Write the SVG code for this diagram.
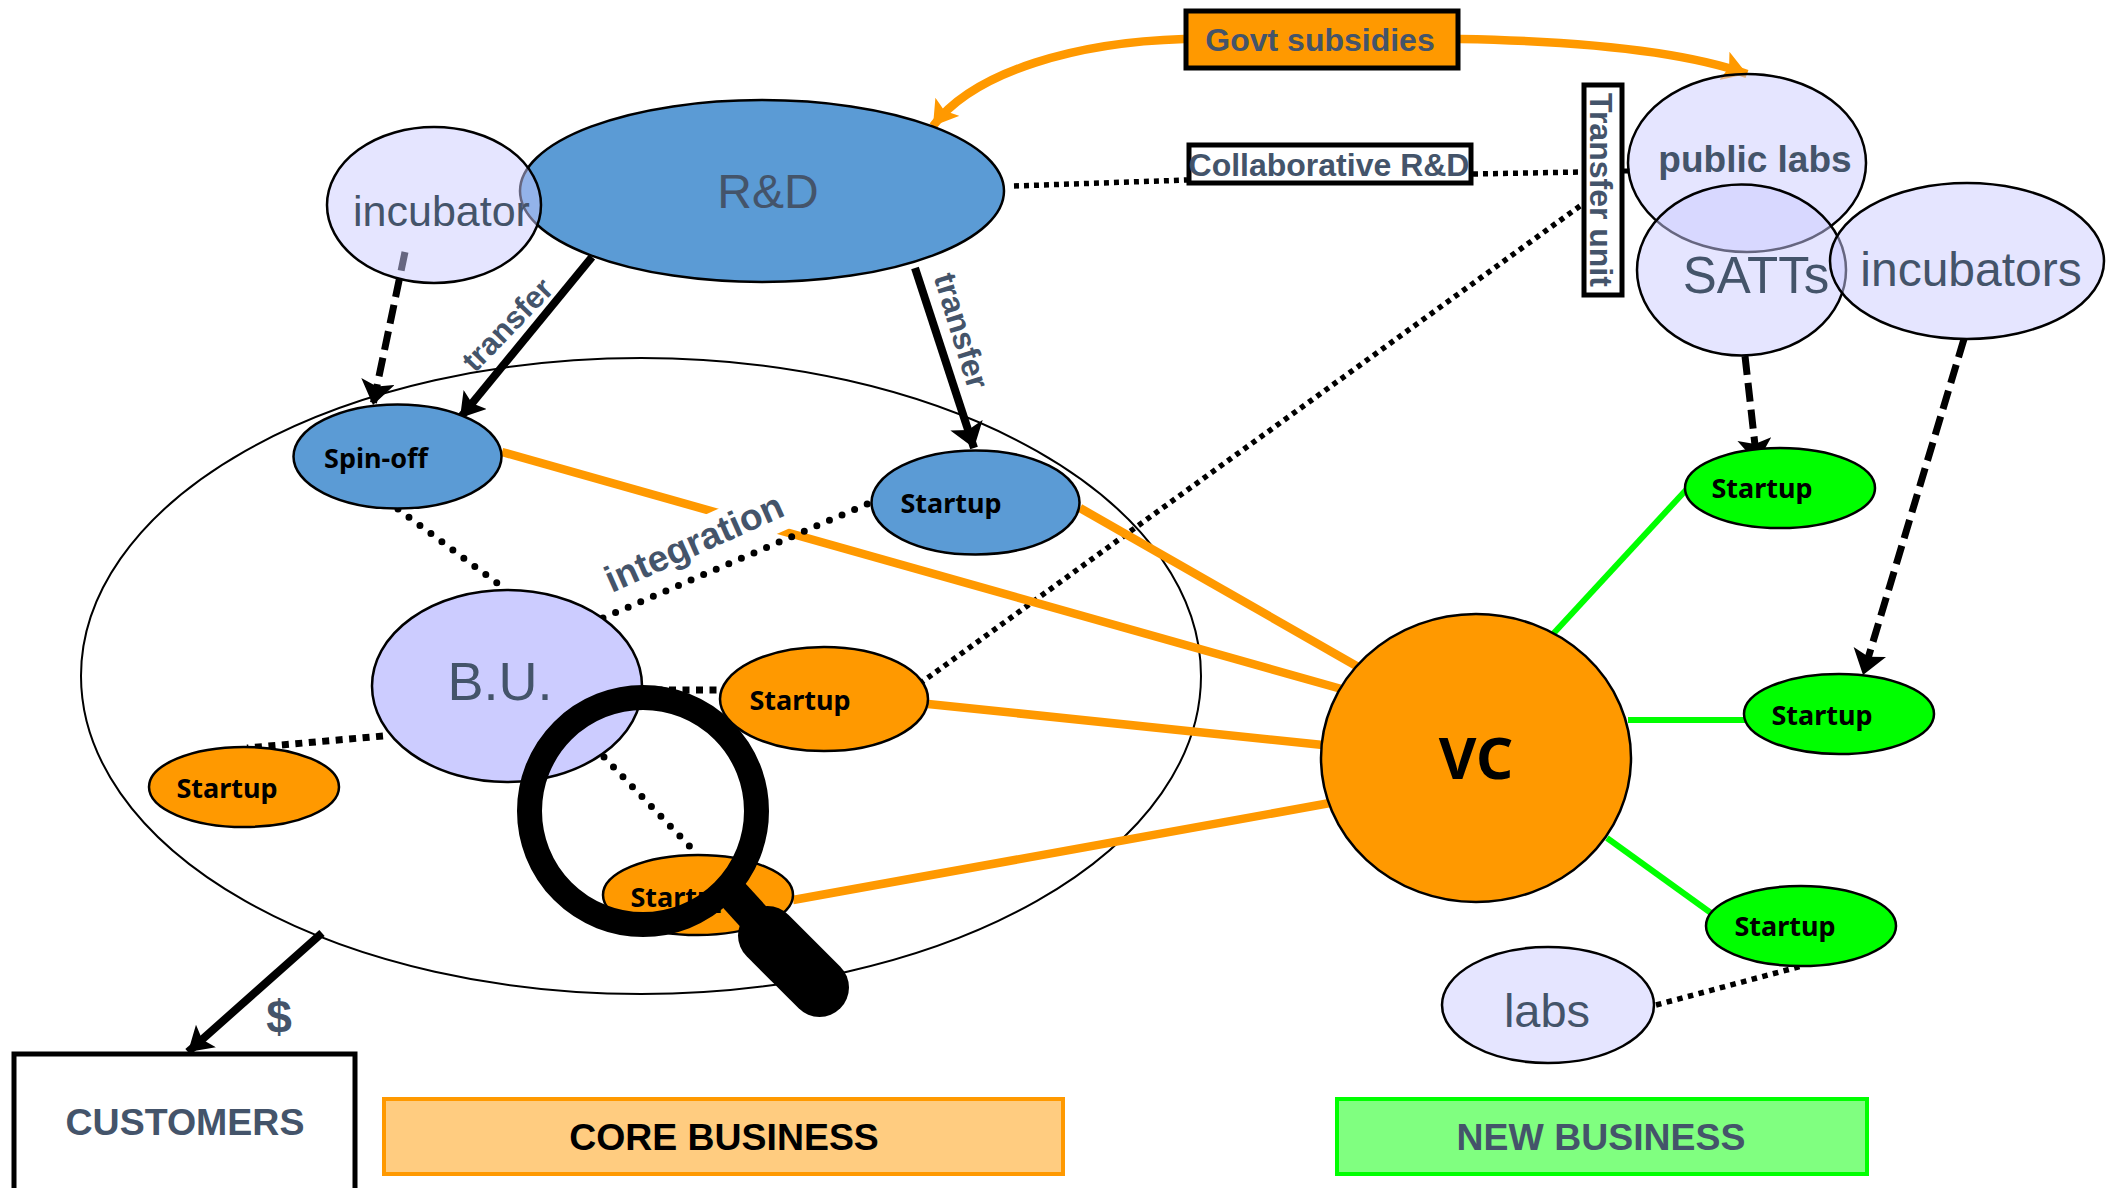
<svg xmlns="http://www.w3.org/2000/svg" width="2116" height="1188" viewBox="0 0 2116 1188">
<style>
.n{stroke:#000;stroke-width:2.5}
.lav{fill:#ccccff;fill-opacity:.5}
.blue{fill:#5b9bd5}
.org{fill:#ff9900}
.grn{fill:#00ff00}
text{font-family:"Liberation Sans",Arial,sans-serif;fill:#44546a;text-anchor:middle}
.b{font-weight:bold}
.s{font-family:"Noto Sans","Open Sans",sans-serif;font-weight:bold;font-size:27px;fill:#000}
.box{stroke:#000;stroke-width:5}
.c{fill:none;stroke:#000}
.dot{stroke-width:7;stroke-dasharray:0 13.7;stroke-linecap:round}
.sq{stroke-width:5.500;stroke-dasharray:5 5}
.sqm{stroke-width:5.500;stroke-dasharray:5.500 5.500}
.sql{stroke-width:7;stroke-dasharray:7 6.500}
.sol{stroke-width:8}
.dash{stroke-width:7;stroke-dasharray:19 8}
.o{fill:none;stroke:#ff9900;stroke-width:8.500}
.g{fill:none;stroke:#00ff00;stroke-width:6}
</style>
<defs>
<marker id="ak" markerUnits="userSpaceOnUse" markerWidth="27" markerHeight="36" refX="24" refY="17" orient="auto"><path d="M0 0L24 17L0 34L5 17Z" fill="#000"/></marker>
<marker id="as" markerUnits="userSpaceOnUse" markerWidth="27" markerHeight="32" refX="24" refY="15" orient="auto"><path d="M0 0L24 15L0 30L5 15Z" fill="#000"/></marker>
<marker id="ao" markerUnits="userSpaceOnUse" markerWidth="27" markerHeight="32" refX="24" refY="15" orient="auto"><path d="M0 0L24 15L0 30L5 15Z" fill="#ff9900"/></marker>
</defs>
<g id="core-ellipse"><ellipse cx="641" cy="676" rx="560" ry="318" fill="none" stroke="#000" stroke-width="2"/></g>
<g id="connectors">
<path class="o" d="M1184 39C1080 42 975 70 933 126" marker-end="url(#ao)"/>
<path class="o" d="M1460 39C1570 41 1680 50 1747 74" marker-end="url(#ao)"/>
<path class="c sq" d="M1014 186L1187 180"/>
<path class="c sq" d="M1473 174L1582 172"/>
<path class="c" stroke-width="5" d="M1624 171L1630 171"/>
<path class="c sq" d="M1580 206L922 682"/>
<path class="o" d="M502 452L1345 690"/>
<path class="o" d="M1080 508L1360 668"/>
<path class="o" d="M928 704L1323 745"/>
<path class="o" d="M793 900L1330 803"/>
<rect transform="translate(699 554) rotate(-24)" x="-105" y="-33.400" width="210" height="46.700" fill="#fff"/>
<path class="c dash" d="M405 252L373 405" marker-end="url(#ak)"/>
<path class="c sol" d="M592 257L460 418" marker-end="url(#as)"/>
<path class="c sol" d="M915 268L974 448" marker-end="url(#ak)"/>
<path class="c dot" d="M398 509L497 583"/>
<path class="c dot" d="M603 618L872 502"/>
<path class="c sql" d="M642 690L720 690"/>
<path class="c sql" d="M383 736L247 748"/>
<path class="c dot" d="M604 757L698 855"/>
<path class="g" d="M1686 490L1553 634"/>
<path class="g" d="M1745 720L1628 720"/>
<path class="g" d="M1711 913L1607 838"/>
<path class="c dash" d="M1745 356L1757 463" marker-end="url(#ak)"/>
<path class="c dash" d="M1964 339L1863 675" marker-end="url(#ak)"/>
<path class="c sqm" d="M1656 1005L1802 966"/>
<path class="c sol" d="M322 933L188 1052" marker-end="url(#as)"/>
</g>
<g id="r-d"><ellipse class="n blue" cx="762" cy="191" rx="242" ry="91"/><text x="768" y="208" font-size="48">R&amp;D</text></g>
<g id="incubator"><ellipse class="n lav" cx="434" cy="205" rx="107" ry="78"/><text x="441.500" y="226" font-size="43">incubator</text></g>
<g id="spin-off"><ellipse class="n blue" cx="397.500" cy="456.500" rx="104" ry="52"/><text class="s" x="376" y="468">Spin-off</text></g>
<g id="startup-blue"><ellipse class="n blue" cx="975.500" cy="502.500" rx="104" ry="52"/><text class="s" x="951" y="513">Startup</text></g>
<g id="bu"><ellipse class="n" fill="#ccccff" cx="507" cy="686" rx="135" ry="96"/><text x="500" y="700" font-size="54">B.U.</text></g>
<g id="startup-o1"><ellipse class="n org" cx="824" cy="699" rx="104" ry="52"/><text class="s" x="800" y="710">Startup</text></g>
<g id="startup-o2"><ellipse class="n org" cx="244" cy="787" rx="95" ry="40"/><text class="s" x="227" y="798">Startup</text></g>
<g id="startup-o3"><ellipse class="n org" cx="698" cy="895" rx="95" ry="40"/><text class="s" x="681" y="907">Startup</text></g>
<g id="magnifier"><circle cx="643" cy="811" r="113.500" fill="none" stroke="#000" stroke-width="25"/><path d="M720 880L770 935" stroke="#000" stroke-width="33" fill="none"/><path d="M767.500 935.500L819.500 987.500" stroke="#000" stroke-width="59" stroke-linecap="round" fill="none"/></g>
<g id="public-labs"><ellipse class="n lav" cx="1747" cy="163" rx="119" ry="89"/><text class="b" x="1755" y="172" font-size="37">public labs</text></g>
<g id="satts"><ellipse class="n lav" cx="1741.500" cy="270" rx="104.500" ry="85.500"/><text x="1756" y="293" font-size="51">SATTs</text></g>
<g id="incubators"><ellipse class="n lav" cx="1967" cy="261" rx="137" ry="78"/><text x="1971" y="286" font-size="48">incubators</text></g>
<g id="govt"><rect class="box org" x="1186" y="11" width="272" height="57"/><text class="b" x="1320" y="51" font-size="32">Govt subsidies</text></g>
<g id="collab"><rect class="box" fill="#fff" x="1189" y="145" width="282" height="38"/><text class="b" x="1329" y="176" font-size="32">Collaborative R&amp;D</text></g>
<g id="transfer-unit"><rect class="box" fill="#fff" x="1584" y="85" width="38" height="210"/><text class="b" transform="translate(1590 190) rotate(90)" font-size="32">Transfer unit</text></g>
<g id="vc"><ellipse class="n org" cx="1476" cy="758" rx="155" ry="144"/><text x="1476" y="779" font-size="58" style="font-family:'Noto Sans',sans-serif;font-weight:bold;fill:#000">VC</text></g>
<g id="startup-g1"><ellipse class="n grn" cx="1780" cy="488" rx="95" ry="40"/><text class="s" x="1762" y="498">Startup</text></g>
<g id="startup-g2"><ellipse class="n grn" cx="1839" cy="714" rx="95" ry="40"/><text class="s" x="1822" y="725">Startup</text></g>
<g id="startup-g3"><ellipse class="n grn" cx="1801" cy="926" rx="95" ry="40"/><text class="s" x="1785" y="936">Startup</text></g>
<g id="labs"><ellipse class="n lav" cx="1548" cy="1005" rx="106" ry="58"/><text x="1547" y="1027" font-size="47">labs</text></g>
<g id="labels">
<text class="b" transform="translate(515 332) rotate(-46)" font-size="31">transfer</text>
<text class="b" transform="translate(951 334) rotate(73)" font-size="32">transfer</text>
<text class="b" transform="translate(699 554) rotate(-24)" font-size="37">integration</text>
<text class="b" x="279" y="1033" font-size="46">$</text>
</g>
<g id="customers"><rect class="box" fill="#fff" x="14" y="1054" width="341" height="140"/><text class="b" x="185" y="1135" font-size="37.500">CUSTOMERS</text></g>
<g id="core"><rect x="384" y="1099" width="679" height="75" fill="#ffcc80" stroke="#ff9900" stroke-width="4"/><text class="b" x="724" y="1150" font-size="37.400" style="fill:#000">CORE BUSINESS</text></g>
<g id="new"><rect x="1337" y="1099" width="530" height="75" fill="#80ff80" stroke="#00ff00" stroke-width="4"/><text class="b" x="1601" y="1150" font-size="37.400">NEW BUSINESS</text></g>
</svg>
